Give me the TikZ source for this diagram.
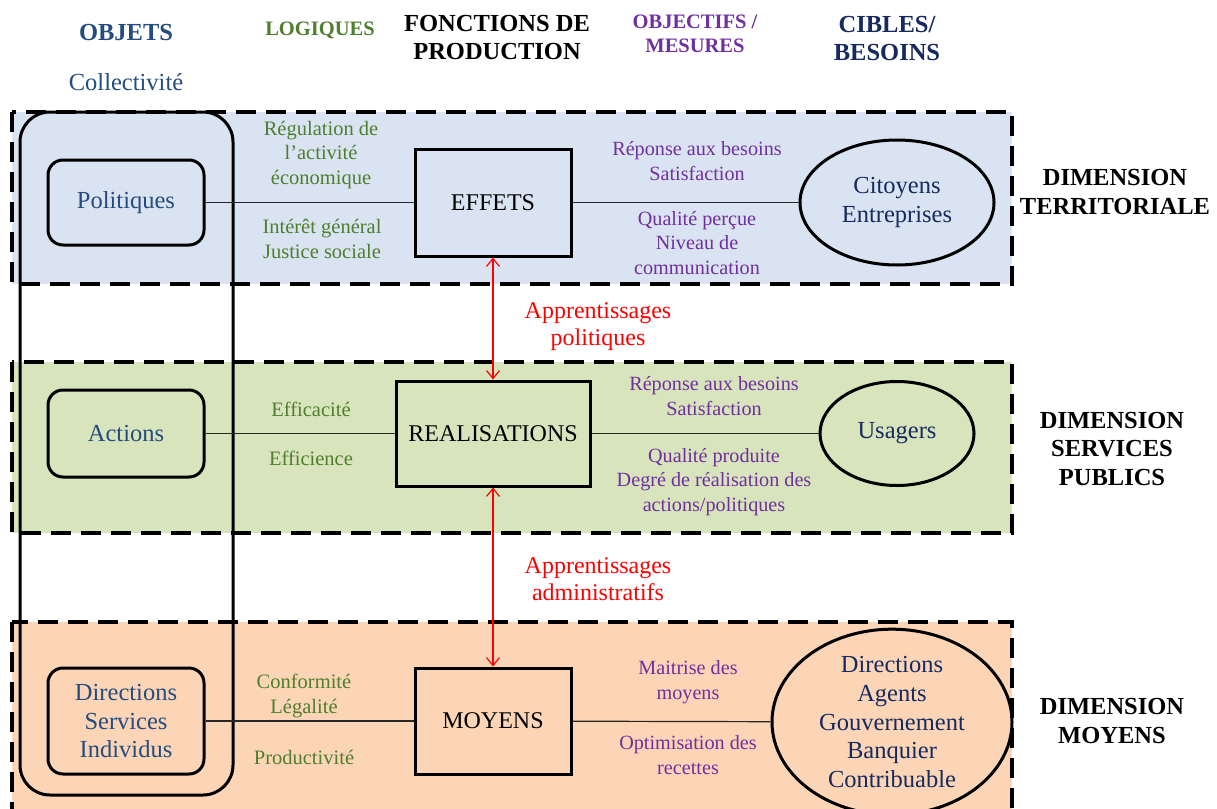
\documentclass[tikz,border=0pt]{standalone}
\usepackage{fontspec}
\setmainfont{Liberation Serif}
\usetikzlibrary{shapes.geometric,arrows.meta}
\definecolor{bandblue}{RGB}{218,227,241}
\definecolor{bandgreen}{RGB}{216,228,188}
\definecolor{bandorange}{RGB}{251,213,181}
\definecolor{objblue}{RGB}{36,76,128}
\definecolor{navy}{RGB}{22,42,96}
\definecolor{logicgreen}{RGB}{78,126,46}
\definecolor{purp}{RGB}{112,48,160}
\tikzset{
  band/.style={line width=3.2pt, dash pattern=on 20pt off 10pt},
  objbox/.style={draw, line width=3pt, rounded corners=15pt, text=objblue, align=center,
    font={\fontsize{24.5}{28.5}\selectfont}, minimum width=156pt, inner sep=2pt},
  fbox/.style={draw, line width=3pt, align=center, font={\fontsize{24}{28.5}\selectfont}, inner sep=2pt},
  target/.style={draw, ellipse, line width=3pt, text=navy, align=center,
    font={\fontsize{24.5}{28.7}\selectfont}, inner sep=0pt},
  conn/.style={line width=1.2pt, draw=black!85},
  learn/.style={draw=red, line width=1.2pt, {Straight Barb[length=8pt,width=13pt]}-{Straight Barb[length=8pt,width=13pt]}},
  hdr/.style={font={\bfseries\fontsize{24.5}{28}\selectfont}, align=center},
  hdrs/.style={font={\bfseries\fontsize{20.5}{24}\selectfont}, align=center},
  glab/.style={text=logicgreen, align=center, font={\fontsize{20.5}{24.5}\selectfont}},
  plab/.style={text=purp, align=center, font={\fontsize{20.2}{24.5}\selectfont}},
  rlab/.style={text=red, align=center, font={\fontsize{24}{27}\selectfont}},
  dimlab/.style={font={\bfseries\fontsize{24.5}{28.5}\selectfont}, align=center}
}
\begin{document}
\begin{tikzpicture}[x=1pt,y=-1pt]
\useasboundingbox (0,0) rectangle (1217,808);
\clip (0,0) rectangle (1217,808);
% bands fill
\fill[bandblue] (12,112) rectangle (1012,284);
\fill[bandgreen] (12,362) rectangle (1012,533);
\fill[bandorange] (12,622) rectangle (1012,830);
% tall rounded rectangle
\draw[line width=3pt, rounded corners=30pt] (20,112) rectangle (233,795);
% dashed borders
\draw[band] (12,112) rectangle (1012,284);
\draw[band] (12,362) rectangle (1012,533);
\draw[band] (12,622) rectangle (1012,830);
% headers
\node[hdr, text=objblue] (hobj) at (126,33) {OBJETS};
\node[text=objblue, font={\fontsize{24.5}{26}\selectfont}] (hcol) at (126,82) {Collectivité};
\node[hdrs, text=logicgreen] (hlog) at (320,30) {LOGIQUES};
\node[hdr] (hfon) at (497,38) {FONCTIONS DE\\PRODUCTION};
\node[hdrs, text=purp] (hobjm) at (695,34) {OBJECTIFS /\\MESURES};
\node[hdr, text=navy] (hcib) at (887,39) {CIBLES/\\BESOINS};
% objects
\node[objbox, minimum height=85pt] (pol) at (126,202.5) {Politiques};
\node[objbox, minimum height=87pt] (act) at (126,433.5) {Actions};
\node[objbox, minimum height=106pt] (dir) at (126,721) {Directions\\Services\\Individus};
% production functions
\node[fbox, minimum width=156pt, minimum height=107pt] (eff) at (493,202.5) {EFFETS};
\node[fbox, minimum width=194pt, minimum height=105pt] (rea) at (493,433.5) {REALISATIONS};
\node[fbox, minimum width=156pt, minimum height=106pt] (moy) at (493,721) {MOYENS};
% targets
\node[target, minimum width=194pt, minimum height=125pt] (cit) at (897,202.5) {Citoyens\\Entreprises};
\node[target, minimum width=154pt, minimum height=104pt] (usa) at (897,433.5) {Usagers};
\node[target, minimum width=240pt, minimum height=166pt] (bes) at (892,722) {Directions\\Agents\\Gouvernement\\Banquier\\Contribuable};
% connectors
\draw[conn] (pol) -- (eff);
\draw[conn] (eff) -- (cit);
\draw[conn] (act) -- (rea);
\draw[conn] (rea) -- (usa);
\draw[conn] (dir) -- (moy);
\draw[conn] (moy) -- (bes);
\draw[learn] (eff.south) -- (rea.north);
\draw[learn] (rea.south) -- (moy.north);
% green labels
\node[glab] (g1) at (321,155) {Régulation de\\l’activité\\économique};
\node[glab] (g2) at (322,239) {Intérêt général\\Justice sociale};
\node[glab] (g3) at (311,409) {Efficacité};
\node[glab] (g4) at (311,458) {Efficience};
\node[glab] (g5) at (304,696) {Conformité\\Légalité};
\node[glab] (g6) at (304,757) {Productivité};
% purple labels
\node[plab] (p1) at (697,161) {Réponse aux besoins\\Satisfaction};
\node[plab] (p2) at (697,243) {Qualité perçue\\Niveau de\\communication};
\node[plab] (p3) at (714,396) {Réponse aux besoins\\Satisfaction};
\node[plab] (p4) at (714,482) {Qualité produite\\Degré de réalisation  des\\actions/politiques};
\node[plab] (p5) at (688,682) {Maitrise des\\moyens};
\node[plab] (p6) at (688,755) {Optimisation des\\recettes};
% red labels
\node[rlab] (r1) at (598,327) {Apprentissages\\politiques};
\node[rlab] (r2) at (598,579) {Apprentissages\\administratifs};
% dimension labels
\node[dimlab] (d1) at (1115,192) {DIMENSION\\TERRITORIALE};
\node[dimlab] (d2) at (1112,449) {DIMENSION\\SERVICES\\PUBLICS};
\node[dimlab] (d3) at (1112,721) {DIMENSION\\MOYENS};
\end{tikzpicture}
\end{document}
